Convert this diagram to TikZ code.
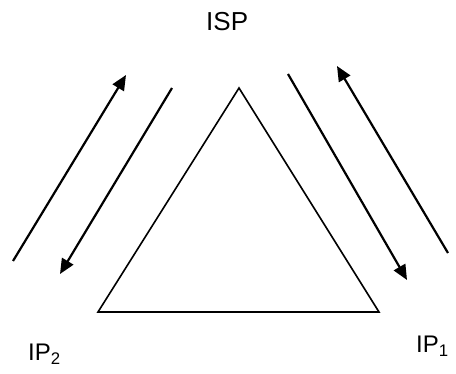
\documentclass[tikz,border=0pt]{standalone}
\usepackage{fontspec}
\setmainfont{Liberation Sans}
\usetikzlibrary{arrows.meta}
\begin{document}
\begin{tikzpicture}[x=1pt,y=-1pt,
  arr/.style={line width=2.2pt,-{Triangle[length=15pt,width=13pt]}},
  tri/.style={line width=1.6pt,line join=miter},
  lbl/.style={inner sep=0pt,anchor=base west}]
\useasboundingbox (0,0) rectangle (456,374);
\coordinate (T) at (239,88);
\coordinate (L) at (98,312);
\coordinate (R) at (379,312);
\draw[tri] (T) -- (L) -- (R) -- cycle;
\coordinate (a1s) at (13,261); \coordinate (a1e) at (126,75);
\coordinate (a2s) at (172,88); \coordinate (a2e) at (60,274);
\coordinate (a3s) at (288,74); \coordinate (a3e) at (407,280);
\coordinate (a4s) at (448,253); \coordinate (a4e) at (337,66);
\draw[arr] (a1s) -- (a1e);
\draw[arr] (a2s) -- (a2e);
\draw[arr] (a3s) -- (a3e);
\draw[arr] (a4s) -- (a4e);
\node[lbl,font=\fontsize{26}{30}\selectfont] (isp) at (206,31) {ISP};
\node[lbl,font=\fontsize{24}{28}\selectfont] (ip2) at (28,361) {IP\textsubscript{2}};
\node[lbl,font=\fontsize{24}{28}\selectfont] (ip1) at (416,353) {IP\textsubscript{1}};
\end{tikzpicture}
\end{document}
